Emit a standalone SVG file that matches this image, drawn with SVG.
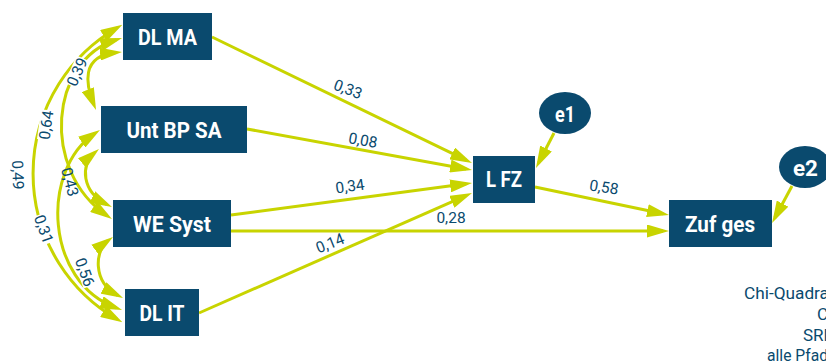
<svg xmlns="http://www.w3.org/2000/svg" width="826" height="362" viewBox="0 0 826 362">
<style>
.box{fill:#0a4a6e}
.nt{font-family:Roboto,"Liberation Sans",sans-serif;font-weight:bold;font-size:22px;fill:#ffffff;text-anchor:middle}
.ln{fill:none;stroke:#c8d400;stroke-width:3}
.el{font-family:Roboto,"Liberation Sans",sans-serif;font-size:15.5px;fill:#0a4a6e;text-anchor:middle}
.bg{fill:#ffffff}
.note{font-family:Roboto,"Liberation Sans",sans-serif;font-size:17px;fill:#0a4a6e}
</style>
<defs>
<marker id="ah" markerUnits="userSpaceOnUse" markerWidth="22" markerHeight="13" refX="16" refY="6.5" orient="auto-start-reverse" viewBox="0 0 22 13">
<path d="M0,0 L22,6.5 L0,13 Z" fill="#c8d400"/>
</marker>
</defs>

<g id="connectors">
<line class="ln" x1="212" y1="37" x2="466.6" y2="160.4" marker-end="url(#ah)"/>
<line class="ln" x1="247" y1="129" x2="466.1" y2="168.9" marker-end="url(#ah)"/>
<line class="ln" x1="231" y1="215" x2="466.1" y2="183.8" marker-end="url(#ah)"/>
<line class="ln" x1="199" y1="313" x2="466.5" y2="195.4" marker-end="url(#ah)"/>
<line class="ln" x1="231" y1="231" x2="663" y2="231" marker-end="url(#ah)"/>
<line class="ln" x1="535" y1="187" x2="663.1" y2="213.8" marker-end="url(#ah)"/>
<line class="ln" x1="554" y1="133" x2="538.7" y2="162.7" marker-end="url(#ah)"/>
<line class="ln" x1="792" y1="186" x2="774.9" y2="217.7" marker-end="url(#ah)"/>
<path class="ln" d="M117.2,27.7 A168.4,168.4 0 0 0 117.2,319.3" marker-start="url(#ah)" marker-end="url(#ah)"/>
<path class="ln" d="M116.3,39.8 C50,60 40,170 107,215.6" marker-start="url(#ah)" marker-end="url(#ah)"/>
<path class="ln" d="M116,52.6 C80,56 86,85 93.8,104.4" marker-start="url(#ah)" marker-end="url(#ah)"/>
<path class="ln" d="M95,133.3 C40,170 45,282 116.4,307.9" marker-start="url(#ah)" marker-end="url(#ah)"/>
<path class="ln" d="M94.4,152.9 C80,165 82,192 106.6,204.3" marker-start="url(#ah)" marker-end="url(#ah)"/>
<path class="ln" d="M108.1,240.5 C95,250 92,282 117.7,295.3" marker-start="url(#ah)" marker-end="url(#ah)"/>
</g>

<g id="labels">
<g transform="translate(348,89) rotate(21)"><text class="el" y="5.5">0,33</text></g>
<g transform="translate(363,140) rotate(10)"><text class="el" y="5.5">0,08</text></g>
<g transform="translate(350,186) rotate(-8)"><text class="el" y="5.5">0,34</text></g>
<g transform="translate(451,217)"><text class="el" y="5.5">0,28</text></g>
<g transform="translate(330,243) rotate(-22)"><text class="el" y="5.5">0,14</text></g>
<g transform="translate(604,187) rotate(9)"><text class="el" y="5.5">0,58</text></g>
<g transform="translate(77,72) rotate(-66)"><rect class="bg" x="-15" y="-7" width="30" height="14"/><text class="el" y="5.5">0,39</text></g>
<g transform="translate(46,125) rotate(-82)"><rect class="bg" x="-15" y="-7" width="30" height="14"/><text class="el" y="5.5">0,64</text></g>
<g transform="translate(18,175) rotate(88)"><text class="el" y="5.5">0,49</text></g>
<g transform="translate(70,182) rotate(75)"><text class="el" y="5.5">0,43</text></g>
<g transform="translate(44,229) rotate(70)"><rect class="bg" x="-15" y="-7" width="30" height="14"/><text class="el" y="5.5">0,31</text></g>
<g transform="translate(85,272) rotate(70)"><rect class="bg" x="-15" y="-7" width="30" height="14"/><text class="el" y="5.5">0,56</text></g>
</g>

<g id="n-dlma"><rect class="box" x="123" y="13" width="89" height="47"/><text class="nt" x="167.5" y="45" textLength="59" lengthAdjust="spacingAndGlyphs">DL MA</text></g>
<g id="n-untbpsa"><rect class="box" x="101" y="106" width="146" height="47"/><text class="nt" x="174" y="138" textLength="95" lengthAdjust="spacingAndGlyphs">Unt BP SA</text></g>
<g id="n-wesyst"><rect class="box" x="113" y="200" width="118" height="47"/><text class="nt" x="172" y="232" textLength="78" lengthAdjust="spacingAndGlyphs">WE Syst</text></g>
<g id="n-dlit"><rect class="box" x="125" y="289" width="74" height="47"/><text class="nt" x="162" y="321" textLength="45" lengthAdjust="spacingAndGlyphs">DL IT</text></g>
<g id="n-lfz"><rect class="box" x="473" y="156" width="62" height="47"/><text class="nt" x="504" y="187" textLength="36" lengthAdjust="spacingAndGlyphs">L FZ</text></g>
<g id="n-zufges"><rect class="box" x="669" y="200" width="103" height="47"/><text class="nt" x="720" y="232" textLength="70" lengthAdjust="spacingAndGlyphs">Zuf ges</text></g>
<g id="n-e1"><ellipse class="box" cx="565" cy="113" rx="26" ry="21"/><text class="nt" x="565" y="121.5" textLength="20" lengthAdjust="spacingAndGlyphs">e1</text></g>
<g id="n-e2"><ellipse class="box" cx="805" cy="167" rx="26" ry="21"/><text class="nt" x="805.5" y="176" textLength="25" lengthAdjust="spacingAndGlyphs">e2</text></g>

<g id="notes">
<text class="note" x="744" y="299" textLength="85" lengthAdjust="spacingAndGlyphs">Chi-Quadra</text>
<text class="note" x="817" y="320">C</text>
<text class="note" x="803" y="341">SRM</text>
<text class="note" x="767" y="361" textLength="61" lengthAdjust="spacingAndGlyphs">alle Pfad</text>
</g>
</svg>
